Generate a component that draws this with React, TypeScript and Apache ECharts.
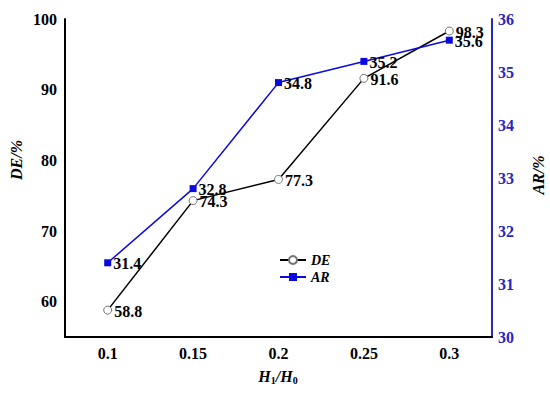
import React, { useEffect, useRef } from "react";
import * as echarts from "echarts";

const categories = ["0.1", "0.15", "0.2", "0.25", "0.3"];
const deValues = [58.8, 74.3, 77.3, 91.6, 98.3];
const arValues = [31.4, 32.8, 34.8, 35.2, 35.6];
const deTicks = [60, 70, 80, 90, 100];

const SERIF = "'Liberation Serif', 'Times New Roman', serif";
const BLUE_AXIS = "#2626c0";
const BLUE = "#0a0ae0";

export default function App() {
  const ref = useRef<HTMLDivElement>(null);
  useEffect(() => {
    const chart = echarts.init(ref.current!, null, { renderer: "svg" });
    const labelStyle = { fontFamily: SERIF, fontWeight: "bold", fontSize: 16, color: "#000" };
    chart.setOption({
      animation: false,
      backgroundColor: "#fff",
      grid: { left: 65, right: 58, top: 19, bottom: 57 },
      legend: {
        orient: "vertical",
        left: 274,
        top: 248,
        itemWidth: 26,
        itemHeight: 10,
        itemGap: 3,
        data: ["DE", "AR"],
        textStyle: { fontFamily: SERIF, fontWeight: "bold", fontStyle: "italic", fontSize: 14, color: "#000" },
      },
      xAxis: {
        type: "category",
        data: categories,
        boundaryGap: true,
        axisLine: { lineStyle: { color: "#000", width: 2 } },
        axisTick: { alignWithLabel: true, inside: true, length: 5, lineStyle: { color: "#000", width: 1.5 } },
        axisLabel: { ...labelStyle, margin: 8 },
        splitLine: { show: false },
      },
      yAxis: [
        {
          type: "value",
          position: "left",
          min: 55,
          max: 100,
          interval: 5,
          axisLine: { show: true, lineStyle: { color: "#000", width: 2 } },
          axisTick: { inside: true, length: 6, customValues: deTicks, lineStyle: { color: "#000", width: 1.5 } },
          axisLabel: { ...labelStyle, margin: 8, customValues: deTicks },
          splitLine: { show: false },
        },
        {
          type: "value",
          position: "right",
          min: 30,
          max: 36,
          interval: 1,
          axisLine: { show: true, lineStyle: { color: BLUE_AXIS, width: 2 } },
          axisTick: { inside: true, length: 6, lineStyle: { color: BLUE_AXIS, width: 1.5 } },
          axisLabel: { ...labelStyle, color: BLUE_AXIS, margin: 6 },
          splitLine: { show: false },
        },
        {
          type: "value",
          position: "left",
          min: 55,
          max: 100,
          interval: 5,
          axisLine: { show: false },
          axisTick: { inside: true, length: 4, lineStyle: { color: "#000", width: 1.2 } },
          axisLabel: { show: false },
          splitLine: { show: false },
        },
      ],
      series: [
        {
          name: "DE",
          type: "line",
          yAxisIndex: 0,
          data: deValues,
          symbol: "circle",
          symbolSize: 8,
          lineStyle: { color: "#000", width: 1.5 },
          itemStyle: { color: "#fff", borderColor: "#777", borderWidth: 1 },
          label: { show: true, position: "right", distance: 2, ...labelStyle, fontSize: 16, offset: [0, 1] },
          z: 2,
        },
        {
          name: "AR",
          type: "line",
          yAxisIndex: 1,
          data: arValues,
          symbol: "rect",
          symbolSize: 7,
          lineStyle: { color: BLUE, width: 1.5 },
          itemStyle: { color: BLUE },
          label: { show: true, position: "right", distance: 2, ...labelStyle, fontSize: 16, offset: [0, 1] },
          z: 3,
        },
      ],
      graphic: [
        {
          type: "text",
          x: 16,
          y: 160,
          rotation: Math.PI / 2,
          style: {
            text: "DE/%",
            fontFamily: SERIF,
            fontWeight: "bold",
            fontStyle: "italic",
            fontSize: 16,
            fill: "#000",
            align: "center",
            verticalAlign: "middle",
          },
        },
        {
          type: "text",
          x: 538,
          y: 175,
          rotation: Math.PI / 2,
          style: {
            text: "AR/%",
            fontFamily: SERIF,
            fontWeight: "bold",
            fontStyle: "italic",
            fontSize: 16,
            fill: "#000",
            align: "center",
            verticalAlign: "middle",
          },
        },
        {
          type: "text",
          x: 278,
          y: 376,
          style: {
            text: "{i|H}{s|1}{i|/H}{s|0}",
            align: "center",
            verticalAlign: "middle",
            rich: {
              i: { fontFamily: SERIF, fontWeight: "bold", fontStyle: "italic", fontSize: 16, fill: "#000", lineHeight: 20 },
              s: { fontFamily: SERIF, fontWeight: "bold", fontSize: 10, fill: "#000", lineHeight: 20, padding: [9, 0, 0, 0] },
            },
          },
        },
      ],
    });
    return () => chart.dispose();
  }, []);
  return <div ref={ref} style={{ width: 550, height: 394, position: "absolute", left: 0, top: 0 }} />;
}
